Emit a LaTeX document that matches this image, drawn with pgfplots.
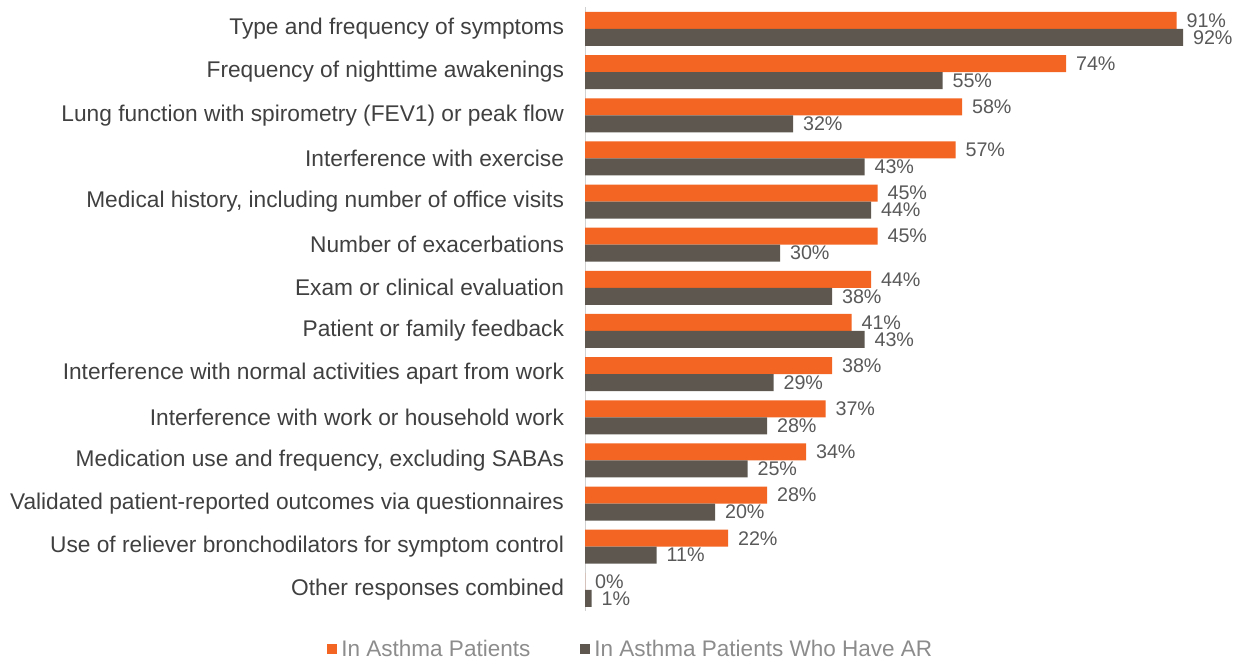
\documentclass[border=0pt]{standalone}
\usepackage{fontspec}
\setmainfont{Liberation Sans}
\usepackage{pgfplots}
\pgfplotsset{compat=1.18}
\definecolor{orng}{HTML}{F26522}
\definecolor{dgray}{HTML}{5E5750}
\begin{document}
\begin{tikzpicture}
\useasboundingbox (0,0) rectangle (617.5bp,-330bp);
\begin{axis}[
  at={(292.5bp,-3.7bp)}, anchor=north west,
  scale only axis, width=325bp, height=302bp,
  xbar, bar width=8.5bp,
  xmin=0, xmax=100,
  ymin=-0.5, ymax=13.5, y dir=reverse,
  axis x line=none,
  axis y line*=left,
  y axis line style={draw=black!18},
  ytick={0,...,13},
  yticklabels={
    Type and frequency of symptoms,
    Frequency of nighttime awakenings,
    Lung function with spirometry (FEV1) or peak flow,
    Interference with exercise,
    {Medical history, including number of office visits},
    Number of exacerbations,
    Exam or clinical evaluation,
    Patient or family feedback,
    Interference with normal activities apart from work,
    Interference with work or household work,
    {Medication use and frequency, excluding SABAs},
    Validated patient-reported outcomes via questionnaires,
    Use of reliever bronchodilators for symptom control,
    Other responses combined},
  major tick length=0,
  y tick label style={font=\fontsize{11.4}{13}\selectfont, text=black!75, xshift=-7bp},
  /pgf/number format/assume math mode=true,
  point meta=x,
  nodes near coords={\pgfmathprintnumber{\pgfplotspointmeta}\%},
  nodes near coords style={font=\fontsize{9.9}{11}\selectfont, text=black!65, xshift=1.5bp},
  clip=false,
  legend style={at={(axis description cs:0.072,-0.063)}, anchor=center, draw=none, fill=none,
    legend columns=2, font=\fontsize{11.3}{13}\selectfont, text=black!45,
    /tikz/every even column/.append style={column sep=23bp}},
  legend cell align=left,
  legend image code/.code={\fill[#1] (0bp,-2.5bp) rectangle (5bp,2.5bp);},
]
\addplot[fill=orng, draw=none, bar shift=4.25bp] coordinates {
  (91,0) (74,1) (58,2) (57,3) (45,4) (45,5) (44,6) (41,7) (38,8) (37,9) (34,10) (28,11) (22,12) (0,13)};
\addplot[fill=dgray, draw=none, bar shift=-4.25bp] coordinates {
  (92,0) (55,1) (32,2) (43,3) (44,4) (30,5) (38,6) (43,7) (29,8) (28,9) (25,10) (20,11) (11,12) (1,13)};
\legend{In Asthma Patients, In Asthma Patients Who Have AR}
\end{axis}
\end{tikzpicture}
\end{document}
